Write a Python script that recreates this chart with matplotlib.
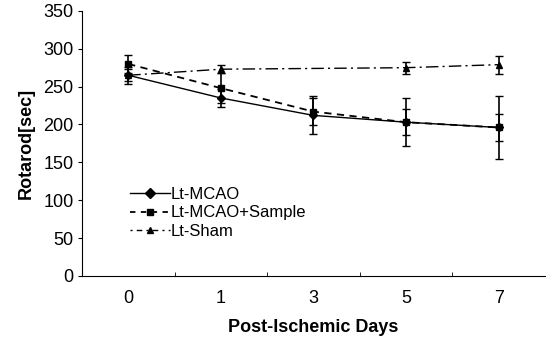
import matplotlib.pyplot as plt
from matplotlib.lines import Line2D
import numpy as np

plt.rcParams['font.family'] = ['Liberation Sans', 'DejaVu Sans']

# data
days = ['0', '1', '3', '5', '7']
mcao = [265, 235, 212, 203, 196]
mcao_err = [11, 12, 25, 32, 42]
sample = [280, 248, 217, 203, 196]
sample_err = [12, 20, 18, 17, 18]
sham_days = [0, 1, 3, 4]          # no sham point at day 3
sham = [265, 273, 275, 279]
sham_err = [8, 5, 8, 12]

x = np.arange(len(days))

fig = plt.figure(figsize=(5.46, 3.41), dpi=100)
ax = fig.add_axes([0.150, 0.191, 0.848, 0.777])

ls_sample = (0, (4, 3))
ls_sham = (0, (9, 3, 1.5, 3))

ax.errorbar(x, mcao, yerr=mcao_err, color='black', lw=1.0, ls='-',
            marker='D', ms=4.5, capsize=3, elinewidth=1.2)
ax.errorbar(x, sample, yerr=sample_err, color='black', lw=1.3, ls=ls_sample,
            marker='s', ms=4.5, capsize=3, elinewidth=1.2)
ax.errorbar(sham_days, sham, yerr=sham_err, color='black', lw=1.0,
            ls=ls_sham, marker='^', ms=5, capsize=3, elinewidth=1.2)

# legend without the error bars
handles = [
    Line2D([], [], color='black', lw=1.0, ls='-', marker='D', ms=5),
    Line2D([], [], color='black', lw=1.3, ls=(0, (3, 3)), marker='s', ms=5),
    Line2D([], [], color='black', lw=1.0, ls=(0, (1.5, 3, 4, 3)), marker='^', ms=5),
]
labels = ['Lt-MCAO', 'Lt-MCAO+Sample', 'Lt-Sham']

ax.set_xlim(-0.5, 4.5)
ax.set_ylim(0, 350)
ax.set_yticks(np.arange(0, 351, 50))
ax.set_xticks(x)
ax.set_xticklabels(days)
ax.set_xticks(np.arange(0.5, 4.5, 1), minor=True)
ax.tick_params(axis='x', which='major', length=0, labelsize=13, pad=10)
ax.tick_params(axis='x', which='minor', direction='in', length=3)
ax.tick_params(axis='y', direction='out', length=3, labelsize=13, pad=3)

ax.spines['top'].set_visible(False)
ax.spines['right'].set_visible(False)

ax.set_xlabel('Post-Ischemic Days', fontsize=13, fontweight='bold', labelpad=9)
ax.set_ylabel('Rotarod[sec]', fontsize=13, fontweight='bold', labelpad=6)

ax.legend(handles, labels, loc='upper left', bbox_to_anchor=(0.09, 0.36),
          frameon=False, fontsize=12, handlelength=2.4, handletextpad=0.05,
          labelspacing=0.2, borderaxespad=0)

plt.savefig('out.png', dpi=100)
